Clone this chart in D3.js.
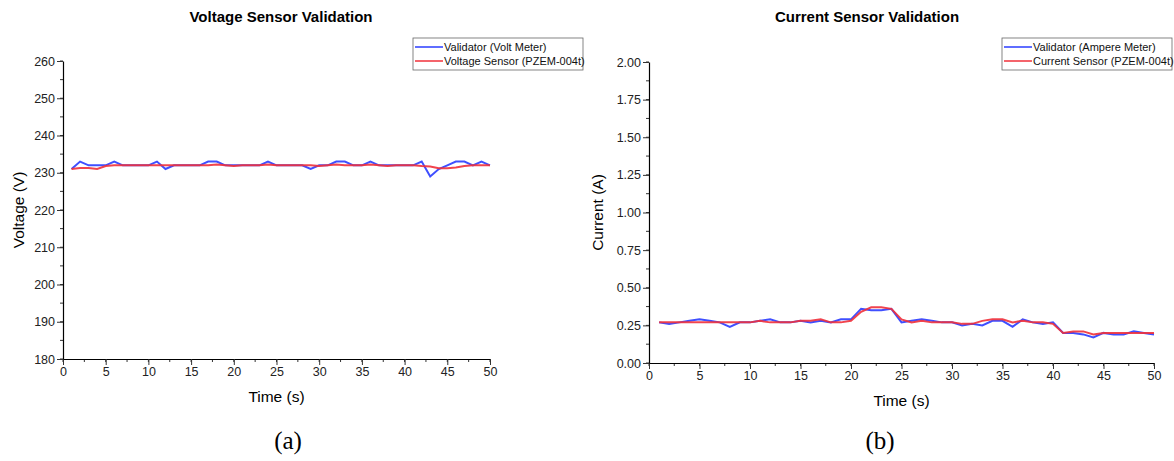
<!DOCTYPE html>
<html>
<head>
<meta charset="utf-8">
<script src="https://cdn.jsdelivr.net/npm/d3@7"></script>
<style>
  body { margin: 0; background: #fff; }
  text { font-family: Arial, "Liberation Sans", sans-serif; }
</style>
</head>
<body>
<div id="viz-container"></div>
<script>
// time axis, 1..50 s
let time = d3.range(1, 51);

// voltage (V)
let voltMeter = [231, 233, 232, 232, 232, 233, 232, 232, 232, 232,
                 233, 231, 232, 232, 232, 232, 233, 233, 232, 232,
                 232, 232, 232, 233, 232, 232, 232, 232, 231, 232,
                 232, 233, 233, 232, 232, 233, 232, 232, 232, 232,
                 232, 233, 229, 231, 232, 233, 233, 232, 233, 232];
let voltSensor = [231, 231.3, 231.3, 231, 231.8, 232, 232, 232, 232, 232,
                  232, 232, 232, 232, 232, 232, 232, 232.2, 232, 231.8,
                  232, 232, 232, 232.2, 232, 232, 232, 232, 232, 231.8,
                  232, 232.2, 232, 232, 232, 232.2, 232, 231.8, 232, 232,
                  232, 231.8, 231.7, 231.2, 231.2, 231.4, 231.8, 232, 232, 232];

// current (A)
let ampMeter = [0.27, 0.26, 0.27, 0.28, 0.29, 0.28, 0.27, 0.24, 0.27, 0.27,
                0.28, 0.29, 0.27, 0.27, 0.28, 0.27, 0.28, 0.27, 0.29, 0.29,
                0.36, 0.35, 0.35, 0.36, 0.27, 0.28, 0.29, 0.28, 0.27, 0.27,
                0.25, 0.26, 0.25, 0.28, 0.28, 0.24, 0.29, 0.27, 0.26, 0.27,
                0.20, 0.20, 0.19, 0.17, 0.20, 0.19, 0.19, 0.21, 0.20, 0.19];
let currSensor = [0.27, 0.27, 0.27, 0.27, 0.27, 0.27, 0.27, 0.27, 0.27, 0.27,
                  0.28, 0.27, 0.27, 0.27, 0.28, 0.28, 0.29, 0.27, 0.27, 0.28,
                  0.34, 0.37, 0.37, 0.36, 0.29, 0.27, 0.28, 0.27, 0.27, 0.27,
                  0.26, 0.26, 0.28, 0.29, 0.29, 0.27, 0.28, 0.27, 0.27, 0.26,
                  0.20, 0.21, 0.21, 0.19, 0.20, 0.20, 0.20, 0.20, 0.20, 0.20];

let xTicks = [0, 5, 10, 15, 20, 25, 30, 35, 40, 45, 50];
let voltTicks = [180, 190, 200, 210, 220, 230, 240, 250, 260];
let currTicks = [0, 0.25, 0.5, 0.75, 1.0, 1.25, 1.5, 1.75, 2.0];

let viz = d3.select("#viz-container")
  .append("svg")
    .attr("width", 1174)
    .attr("height", 461)
;

function drawPanel(opt) {
  let x = d3.scaleLinear().domain([0, 50]).range([opt.left, opt.right]);
  let y = d3.scaleLinear().domain(opt.yDomain).range([opt.bottom, opt.top]);
  let g = viz.append("g");

  // title
  g.append("text")
    .attr("x", opt.titleX)
    .attr("y", 22)
    .attr("text-anchor", "middle")
    .attr("font-size", 15)
    .attr("font-weight", "bold")
    .text(opt.title);

  // minor ticks
  let xMinor = d3.range(0, 50.01, 2.5);
  g.append("g").selectAll("line").data(xMinor).join("line")
    .attr("x1", d => x(d)).attr("x2", d => x(d))
    .attr("y1", opt.bottom).attr("y2", opt.bottom + 3)
    .attr("stroke", "#333");
  let yMinor = d3.range(opt.yDomain[0], opt.yDomain[1] + opt.minorStep / 2, opt.minorStep);
  g.append("g").selectAll("line").data(yMinor).join("line")
    .attr("x1", opt.left - 3).attr("x2", opt.left)
    .attr("y1", d => y(d)).attr("y2", d => y(d))
    .attr("stroke", "#333");

  // axes
  let xAxis = g.append("g")
    .attr("transform", "translate(0," + opt.bottom + ")")
    .call(d3.axisBottom(x).tickValues(xTicks).tickSize(6).tickSizeOuter(0).tickPadding(2));
  let yAxis = g.append("g")
    .attr("transform", "translate(" + opt.left + ",0)")
    .call(d3.axisLeft(y).tickValues(opt.yTicks).tickFormat(opt.yFormat).tickSize(6).tickSizeOuter(0).tickPadding(2));
  [xAxis, yAxis].forEach(a => {
    a.selectAll("text").attr("font-size", 12.5).attr("fill", "#222")
      .style("font-family", "Arial, 'Liberation Sans', sans-serif");
    a.select(".domain").attr("stroke", "#000").attr("stroke-width", 1.2);
    a.selectAll(".tick line").attr("stroke", "#333");
  });

  // axis titles
  g.append("text")
    .attr("x", (opt.left + opt.right) / 2)
    .attr("y", opt.bottom + 43)
    .attr("text-anchor", "middle")
    .attr("font-size", 15.5)
    .text("Time (s)");
  g.append("text")
    .attr("transform", "translate(" + opt.yTitleX + "," + ((opt.top + opt.bottom) / 2) + ") rotate(-90)")
    .attr("text-anchor", "middle")
    .attr("font-size", 15.5)
    .text(opt.yTitle);

  // lines
  let line = d3.line().x((d, i) => x(time[i])).y(d => y(d));
  g.append("path").datum(opt.ref)
    .attr("d", line).attr("fill", "none")
    .attr("stroke", "#2a3cff").attr("stroke-width", 2).attr("stroke-opacity", 0.9);
  g.append("path").datum(opt.sensor)
    .attr("d", line).attr("fill", "none")
    .attr("stroke", "#f0303a").attr("stroke-width", 2).attr("stroke-opacity", 0.9);

  // legend
  let lg = g.append("g").attr("transform", "translate(" + opt.legX + ",38)");
  lg.append("rect").attr("width", opt.legW).attr("height", 32)
    .attr("fill", "#fff").attr("stroke", "#666").attr("stroke-width", 0.8);
  [[opt.refName, "#2a3cff"], [opt.sensorName, "#f0303a"]].forEach((d, i) => {
    lg.append("line").attr("x1", 2).attr("x2", 30)
      .attr("y1", 9 + i * 14).attr("y2", 9 + i * 14)
      .attr("stroke", d[1]).attr("stroke-width", 1.5);
    lg.append("text").attr("x", 31).attr("y", 13 + i * 14)
      .attr("font-size", 11).attr("fill", "#111").text(d[0]);
  });

  // panel label
  viz.append("text")
    .attr("x", opt.labelX).attr("y", 449)
    .attr("text-anchor", "middle")
    .attr("font-size", 25)
    .style("font-family", "'Liberation Serif', 'Times New Roman', serif")
    .text(opt.label);
}

drawPanel({
  left: 63, right: 490, top: 61, bottom: 359,
  yDomain: [180, 260], yTicks: voltTicks, yFormat: d3.format("d"), minorStep: 5,
  title: "Voltage Sensor Validation", titleX: 281,
  yTitle: "Voltage (V)", yTitleX: 24,
  ref: voltMeter, sensor: voltSensor,
  refName: "Validator (Volt Meter)", sensorName: "Voltage Sensor (PZEM-004t)",
  legX: 413, legW: 170, label: "(a)", labelX: 288
});

drawPanel({
  left: 649, right: 1154, top: 62, bottom: 363,
  yDomain: [0, 2], yTicks: currTicks, yFormat: d3.format(".2f"), minorStep: 0.125,
  title: "Current Sensor Validation", titleX: 867,
  yTitle: "Current (A)", yTitleX: 603,
  ref: ampMeter, sensor: currSensor,
  refName: "Validator (Ampere Meter)", sensorName: "Current Sensor (PZEM-004t)",
  legX: 1002, legW: 170, label: "(b)", labelX: 880
});
</script>
</body>
</html>
